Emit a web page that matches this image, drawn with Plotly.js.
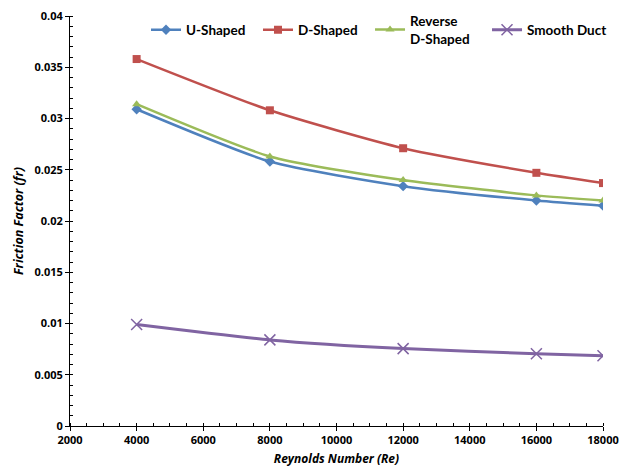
<!DOCTYPE html>
<html>
<head>
<meta charset="utf-8">
<script src="https://cdn.plot.ly/plotly-3.0.1.min.js"></script>
<style>html,body{margin:0;padding:0;background:#fff;}#chart{width:619px;height:472px;}</style>
</head>
<body>
<div id="chart"></div>
<script>
const reynolds = [4000, 8000, 12000, 16000, 18000];
const uShaped = [0.0309, 0.0258, 0.0234, 0.0220, 0.0215];
const dShaped = [0.0358, 0.0308, 0.0271, 0.0247, 0.0237];
const reverseDShaped = [0.0314, 0.0263, 0.0240, 0.0225, 0.0220];
const smoothDuct = [0.00990, 0.00840, 0.00755, 0.00705, 0.00685];
const seriesNames = ['U-Shaped', 'D-Shaped', 'Reverse<br>D-Shaped', 'Smooth Duct'];

const colors = ['#4F81BD', '#C0504D', '#9BBB59', '#8064A2'];
const symbols = ['diamond', 'square', 'triangle-up', 'x-thin-open'];
const sizes = [8, 8, 8, 11];
const legendIds = ['legend', 'legend2', 'legend3', 'legend4'];
const data = [uShaped, dShaped, reverseDShaped, smoothDuct].map((ys, i) => ({
  x: reynolds, y: ys, name: seriesNames[i], type: 'scatter', mode: 'lines+markers',
  legend: legendIds[i],
  line: {color: colors[i], width: i === 3 ? 3 : 2.5, shape: 'spline', smoothing: 0.6},
  marker: {symbol: symbols[i], color: colors[i], size: sizes[i],
           line: {color: colors[i], width: i === 3 ? 1.5 : 0}}
}));

const FAM = 'Open Sans, Liberation Sans, sans-serif';
const legFont = {family: 'Lato, Open Sans, sans-serif', size: 13.5, color: '#000', weight: 'bold'};
const legX = [0.1426, 0.3527, 0.5629, 0.7824];
function mkLegend(x) {
  return {orientation: 'h', x: x, y: 0.966, xanchor: 'left', yanchor: 'middle',
          font: legFont, bgcolor: 'rgba(0,0,0,0)', valign: 'middle', itemwidth: 30};
}
const axisBase = {
  showgrid: false, zeroline: false, showline: true, linecolor: '#000', linewidth: 1,
  tickcolor: '#000', ticklen: 4
};
const layout = {
  width: 619, height: 472,
  margin: {l: 70, r: 16, t: 16, b: 46, autoexpand: false},
  paper_bgcolor: '#fff', plot_bgcolor: '#fff',
  font: {family: FAM, size: 11, color: '#000'},
  showlegend: true,
  legend: mkLegend(legX[0]), legend2: mkLegend(legX[1]),
  legend3: mkLegend(legX[2]), legend4: mkLegend(legX[3]),
  xaxis: Object.assign({}, axisBase, {
    range: [2000, 18000], dtick: 2000, tick0: 2000, tickformat: 'd',
    ticks: 'outside',
    minor: {dtick: 500, ticks: 'inside', ticklen: 3, tickcolor: '#000', showgrid: false},
    tickfont: {family: FAM, size: 11, color: '#000', weight: 'bold'},
    title: {text: '<i>Reynolds Number (Re)</i>', standoff: 8,
            font: {family: FAM, size: 12, color: '#000', weight: 'bold'}}
  }),
  xaxis2: Object.assign({}, axisBase, {
    range: [2000, 18000], dtick: 2000, tick0: 2000, overlaying: 'x', anchor: 'y', side: 'bottom',
    ticks: 'inside', showticklabels: false
  }),
  yaxis: Object.assign({}, axisBase, {
    range: [0, 0.04], dtick: 0.005, tick0: 0,
    ticks: 'outside',
    minor: {dtick: 0.001, ticks: 'inside', ticklen: 3, tickcolor: '#000', showgrid: false},
    tickfont: {family: FAM, size: 11, color: '#000', weight: 'bold'},
    title: {text: '<i>Friction Factor (fr)</i>', standoff: 8,
            font: {family: FAM, size: 12.5, color: '#000', weight: 'bold'}}
  }),
  yaxis2: Object.assign({}, axisBase, {
    range: [0, 0.04], dtick: 0.005, tick0: 0, overlaying: 'y', anchor: 'x', side: 'left',
    ticks: 'inside', showticklabels: false
  })
};
Plotly.newPlot('chart', data, layout, {displayModeBar: false, staticPlot: true});
</script>
</body>
</html>
